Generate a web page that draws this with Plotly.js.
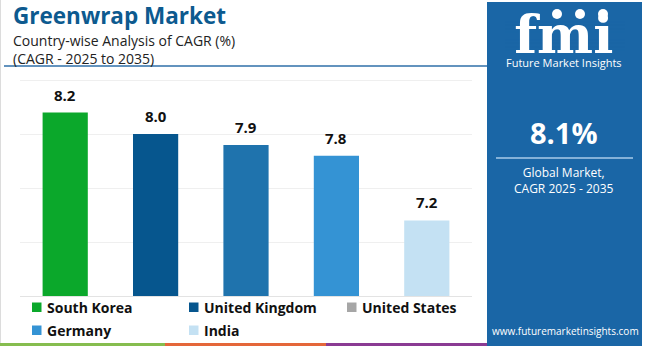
<!DOCTYPE html>
<html>
<head>
<meta charset="utf-8">
<script src="https://cdn.plot.ly/plotly-3.0.1.min.js"></script>
<style>html,body{margin:0;padding:0;background:#fff;}#chart{width:650px;height:346px;}</style>
</head>
<body>
<div id="chart"></div>
<script>
// ---- data ----
const categories = ["South Korea", "United Kingdom", "United States", "Germany", "India"];
const cagrValues = [8.2, 8.0, 7.9, 7.8, 7.2];
const barColors = ["#0ba82b", "#06568e", "#1f73ad", "#3493d4", "#c4e1f3"];
const legendColors = ["#0ba82b", "#06568e", "#a6a6a6", "#3493d4", "#c4e1f3"];
const globalCagr = "8.1%";
const titleText = "Greenwrap Market";
const subtitleLines = ["Country-wise Analysis of CAGR (%)", "(CAGR - 2025 to 2035)"];
const panelLines = ["Global Market,", "CAGR 2025 - 2035"];

// ---- layout helpers (pixel -> paper) ----
const W = 650, H = 346;
const M = {l: 20, r: 178, t: 78, b: 50};
const PW = W - M.l - M.r, PH = H - M.t - M.b;
const X = px => (px - M.l) / PW;
const Y = py => (H - M.b - py) / PH;

const FONT = "Open Sans, Roboto, sans-serif";

const trace = {
  type: "bar",
  x: categories,
  y: cagrValues,
  marker: {color: barColors},
  hoverinfo: "x+y",
  showlegend: false
};

const annotations = [];
const shapes = [];

// value labels
categories.forEach((c, i) => {
  annotations.push({
    x: c, y: cagrValues[i], xref: "x", yref: "y",
    text: cagrValues[i].toFixed(1), showarrow: false,
    yanchor: "bottom", yshift: 6,
    font: {family: FONT, size: 15, color: "#111", weight: 700}
  });
});

// title block
annotations.push({xref: "paper", yref: "paper", x: X(12), y: Y(16), xanchor: "left", yanchor: "middle",
  text: "<b>" + titleText + "</b>", showarrow: false, borderpad: 0, font: {family: FONT, size: 22.5, color: "#0d5a8f"}});
annotations.push({xref: "paper", yref: "paper", x: X(12), y: Y(49), xanchor: "left", yanchor: "middle", align: "left",
  text: subtitleLines.join("<br>"), showarrow: false, borderpad: 0, font: {family: FONT, size: 14, color: "#222"}});
shapes.push({type: "line", xref: "paper", yref: "paper", x0: X(4), x1: X(487), y0: Y(66), y1: Y(66),
  line: {color: "#2f6fa8", width: 1.5}});

// legend (manual)
const legCols = [32, 189, 347];
categories.forEach((c, i) => {
  const col = legCols[i % 3];
  const row = Math.floor(i / 3);
  const cy = 307 + row * 23;
  shapes.push({type: "rect", xref: "paper", yref: "paper", x0: X(col), x1: X(col + 9.5), y0: Y(cy - 4.5), y1: Y(cy + 5),
    fillcolor: legendColors[i], line: {width: 0}});
  annotations.push({xref: "paper", yref: "paper", x: X(col + 13), y: Y(cy), xanchor: "left", yanchor: "middle",
    text: "<b>" + c + "</b>", showarrow: false, font: {family: FONT, size: 14, color: "#111"}});
});

// bottom stripe
[["#86bd4f", 0, 165], ["#e4673a", 165, 326], ["#8a3b93", 326, 487]].forEach(s => {
  shapes.push({type: "rect", xref: "paper", yref: "paper", x0: X(s[1]), x1: X(s[2]), y0: Y(346), y1: Y(343),
    fillcolor: s[0], line: {width: 0}});
});
// left border
shapes.push({type: "line", xref: "paper", yref: "paper", x0: X(0.5), x1: X(0.5), y0: Y(0), y1: Y(343),
  line: {color: "#dcdcdc", width: 1}});

// right panel
const PANEL = "#1a66a6";
shapes.push({type: "rect", xref: "paper", yref: "paper", x0: X(487), x1: X(642), y0: Y(2), y1: Y(346),
  fillcolor: PANEL, line: {width: 0}, layer: "below"});
// logo: "fmi" + caption in one text block
annotations.push({xref: "paper", yref: "paper", x: X(564), y: Y(37), xanchor: "center", yanchor: "middle", align: "center",
  text: "<span style='font-family:DejaVu Serif, serif;font-size:53px;font-weight:bold'>fmi</span><br>Future Market Insights",
  showarrow: false, borderpad: 0, font: {family: FONT, size: 11, color: "#ffffff"}});
for (let k = 0; k < 10; k++) {
  const yy = 18 + k * 3.6;
  shapes.push({type: "line", xref: "paper", yref: "paper", x0: X(505), x1: X(625), y0: Y(yy), y1: Y(yy),
    line: {color: PANEL, width: 1}});
}
[557, 580, 603].forEach(cx => {
  shapes.push({type: "circle", xref: "paper", yref: "paper", x0: X(cx - 5), x1: X(cx + 5), y0: Y(9), y1: Y(19),
    fillcolor: "#ffffff", line: {width: 0}});
});
annotations.push({xref: "paper", yref: "paper", x: X(564), y: Y(132), xanchor: "center", yanchor: "middle",
  text: "<b>" + globalCagr + "</b>", showarrow: false, font: {family: FONT, size: 29, color: "#ffffff"}});
shapes.push({type: "line", xref: "paper", yref: "paper", x0: X(496), x1: X(633), y0: Y(158), y1: Y(158),
  line: {color: "#a9cbe8", width: 1.5}});
annotations.push({xref: "paper", yref: "paper", x: X(564), y: Y(180), xanchor: "center", yanchor: "middle", align: "center",
  text: panelLines.join("<br>"), showarrow: false, font: {family: FONT, size: 12, color: "#ffffff"}});
annotations.push({xref: "paper", yref: "paper", x: X(565), y: Y(331), xanchor: "center", yanchor: "middle",
  text: "www.futuremarketinsights.com", showarrow: false, font: {family: FONT, size: 10, color: "#ffffff"}});

const layout = {
  width: W, height: H,
  margin: M,
  paper_bgcolor: "#ffffff",
  plot_bgcolor: "rgba(0,0,0,0)",
  bargap: 0.5,
  showlegend: false,
  xaxis: {showticklabels: false, ticks: "", showgrid: false, showline: true, linecolor: "#e3e3e3", linewidth: 1,
    zeroline: false, fixedrange: true},
  yaxis: {range: [6.5, 8.52], dtick: 0.5, tick0: 6.5, showticklabels: false, ticks: "", showgrid: true,
    gridcolor: "#efefef", gridwidth: 1, zeroline: false, showline: false, fixedrange: true},
  annotations: annotations,
  shapes: shapes,
  font: {family: FONT}
};

Plotly.newPlot("chart", [trace], layout, {displayModeBar: false, staticPlot: true});
</script>
</body>
</html>
